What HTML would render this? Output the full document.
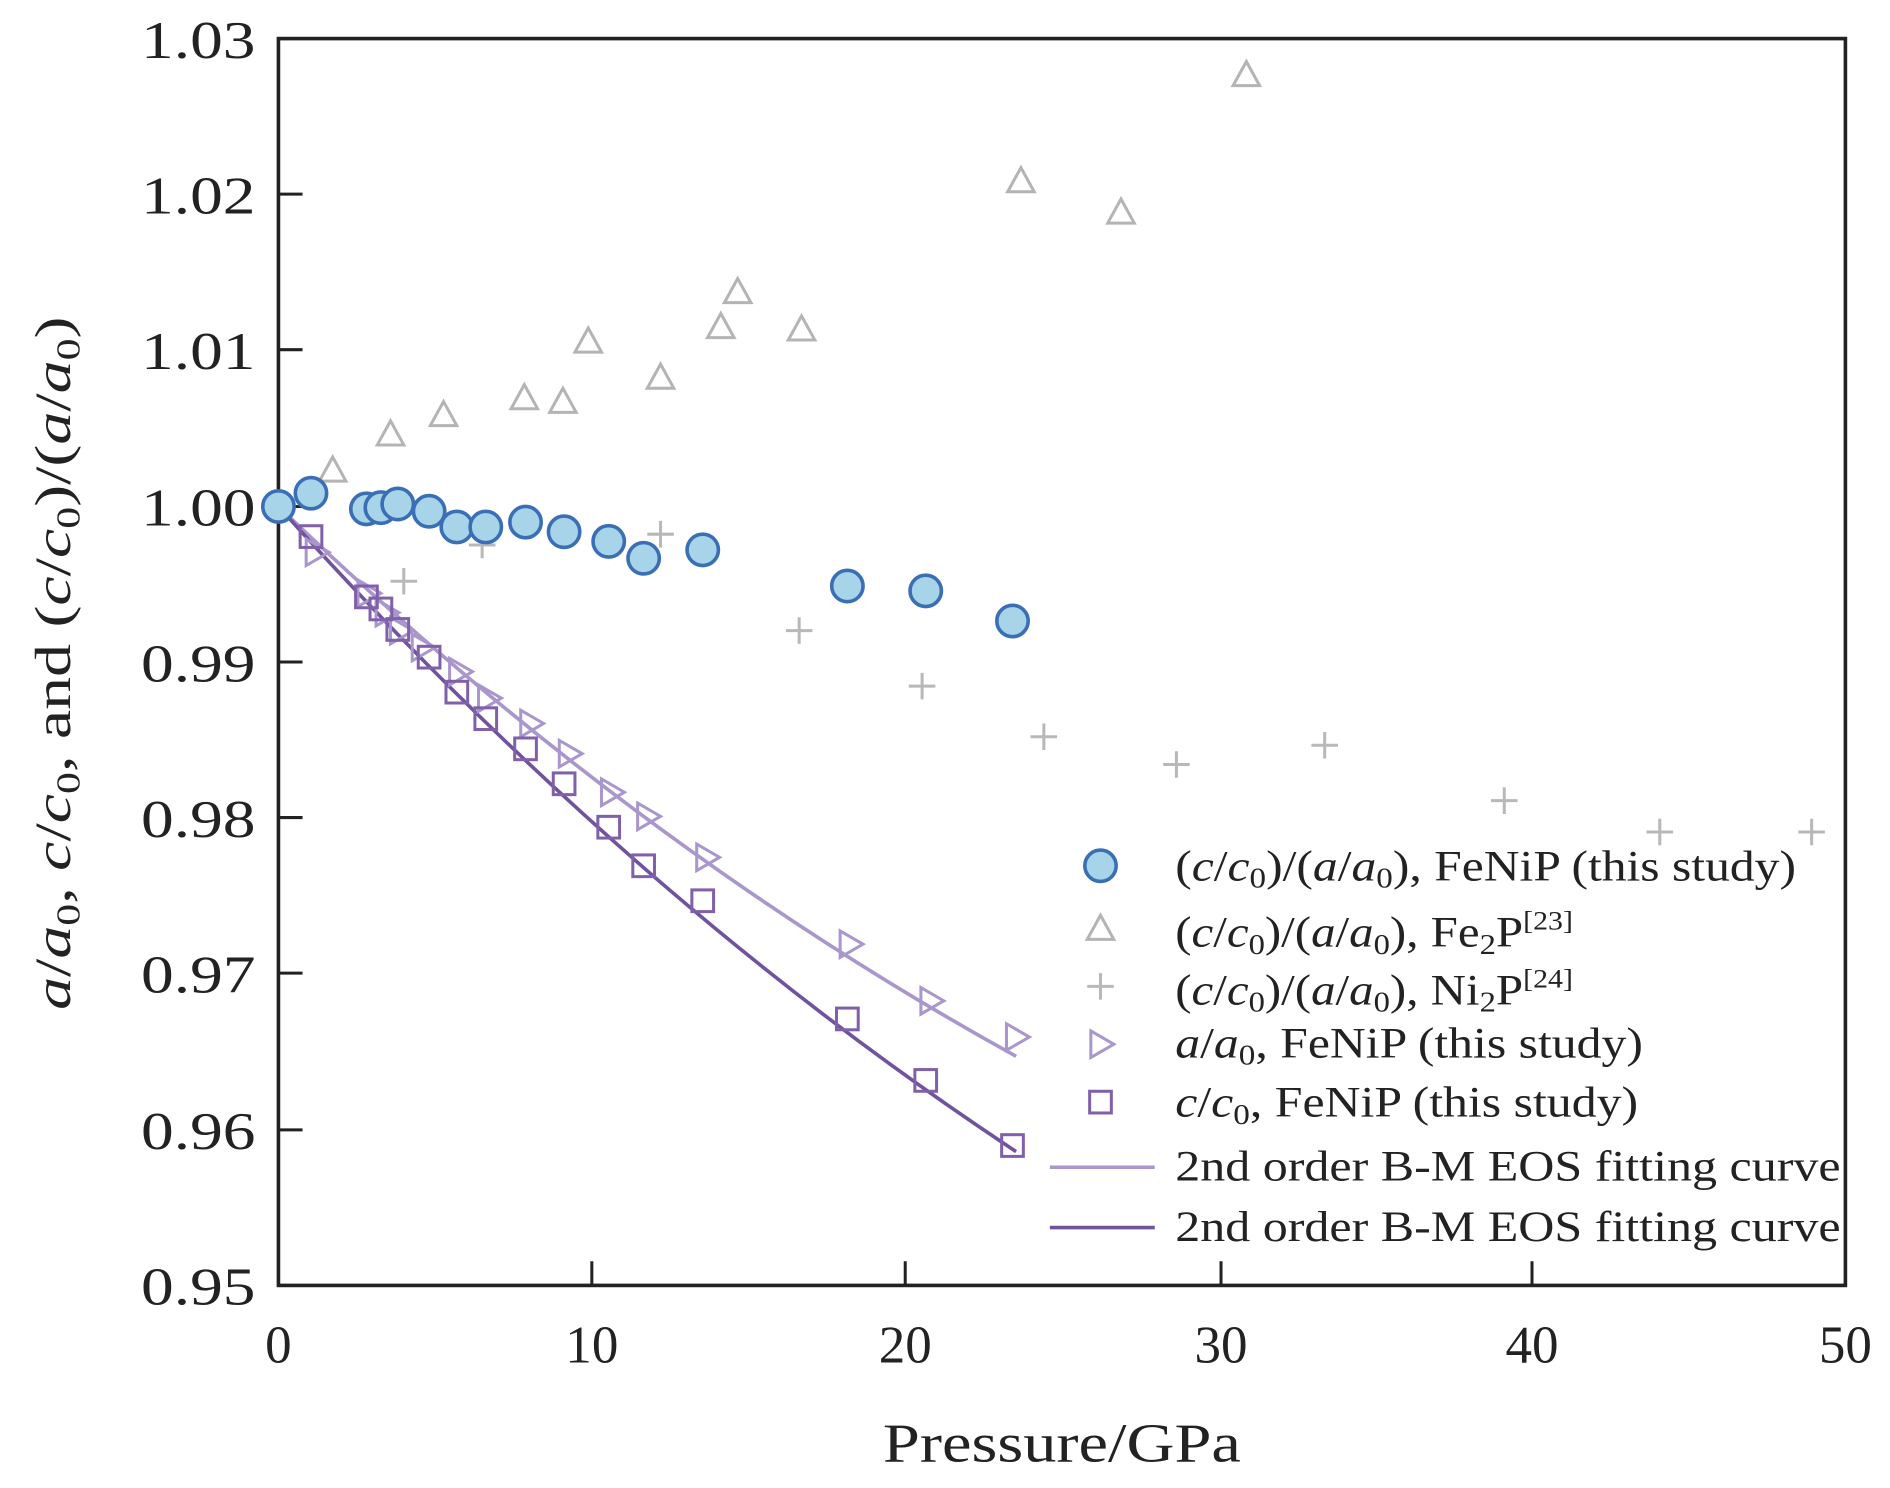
<!DOCTYPE html>
<html><head><meta charset="utf-8"><style>html,body{margin:0;padding:0;background:#fff}svg{display:block}text{font-family:"Liberation Serif",serif}</style></head><body>
<svg width="1890" height="1488" viewBox="0 0 1568 1234" preserveAspectRatio="none" xmlns="http://www.w3.org/2000/svg" fill="#222">
<defs>
<g id="c"><circle r="13" fill="#a8d4ea" stroke="#3a6fb5" stroke-width="3"/></g>
<g id="t"><path d="M0,-11 L11,9 L-11,9 Z" fill="none" stroke="#b4b4b4" stroke-width="2.5"/></g>
<g id="p"><path d="M-11,0 H11 M0,-11 V11" stroke="#b8b8b8" stroke-width="2.5"/></g>
<g id="r"><path d="M-8,-11 L11,0 L-8,11 Z" fill="none" stroke="#a896cc" stroke-width="2.5"/></g>
<g id="s"><rect x="-9" y="-9" width="18" height="18" fill="none" stroke="#8060a8" stroke-width="2.5"/></g>
</defs>
<rect x="231" y="32" width="1300" height="1034" fill="none" stroke="#222" stroke-width="3"/>
<g stroke="#222" stroke-width="2.5">
<path d="M491,1066v-20M751,1066v-20M1013,1066v-20M1271,1066v-20"/>
<path d="M231,161h20M231,290h20M231,420h20M231,549h20M231,678h20M231,807h20M231,937h20"/>
</g>
<g font-size="44" text-anchor="end">
<text x="212" y="48" textLength="95" lengthAdjust="spacingAndGlyphs">1.03</text>
<text x="212" y="177" textLength="95" lengthAdjust="spacingAndGlyphs">1.02</text>
<text x="212" y="306" textLength="95" lengthAdjust="spacingAndGlyphs">1.01</text>
<text x="212" y="436" textLength="95" lengthAdjust="spacingAndGlyphs">1.00</text>
<text x="212" y="565" textLength="95" lengthAdjust="spacingAndGlyphs">0.99</text>
<text x="212" y="694" textLength="95" lengthAdjust="spacingAndGlyphs">0.98</text>
<text x="212" y="823" textLength="95" lengthAdjust="spacingAndGlyphs">0.97</text>
<text x="212" y="953" textLength="95" lengthAdjust="spacingAndGlyphs">0.96</text>
<text x="212" y="1082" textLength="95" lengthAdjust="spacingAndGlyphs">0.95</text>
</g>
<g font-size="44" text-anchor="middle">
<text x="231" y="1130">0</text><text x="491" y="1130">10</text><text x="751" y="1130">20</text><text x="1013" y="1130">30</text><text x="1271" y="1130">40</text><text x="1531" y="1130">50</text>
<text x="881" y="1212" font-size="46" textLength="297" lengthAdjust="spacingAndGlyphs">Pressure/GPa</text>
</g>
<text transform="translate(58,550) rotate(-90)" font-size="42" text-anchor="middle" textLength="575" lengthAdjust="spacingAndGlyphs"><tspan font-style="italic">a</tspan>/<tspan font-style="italic">a</tspan><tspan font-size="28" dy="8">0</tspan><tspan dy="-8">, </tspan><tspan font-style="italic">c</tspan>/<tspan font-style="italic">c</tspan><tspan font-size="28" dy="8">0</tspan><tspan dy="-8">, and (</tspan><tspan font-style="italic">c</tspan>/<tspan font-style="italic">c</tspan><tspan font-size="28" dy="8">0</tspan><tspan dy="-8">)/(</tspan><tspan font-style="italic">a</tspan>/<tspan font-style="italic">a</tspan><tspan font-size="28" dy="8">0</tspan><tspan dy="-8">)</tspan></text>
<path d="M231,420 Q520,698 843,876" fill="none" stroke="#a896cc" stroke-width="3"/>
<path d="M231,420 Q520,742 843,955" fill="none" stroke="#70529e" stroke-width="3"/>
<g>
<use href="#t" x="276" y="390"/><use href="#t" x="324" y="360"/><use href="#t" x="368" y="344"/><use href="#t" x="435" y="330"/><use href="#t" x="467" y="333"/><use href="#t" x="488" y="283"/><use href="#t" x="548" y="313"/><use href="#t" x="598" y="271"/><use href="#t" x="612" y="242"/><use href="#t" x="665" y="273"/><use href="#t" x="847" y="150"/><use href="#t" x="930" y="176"/><use href="#t" x="1034" y="62"/>
<use href="#p" x="335" y="482"/><use href="#p" x="400" y="452"/><use href="#p" x="548" y="443"/><use href="#p" x="663" y="523"/><use href="#p" x="765" y="569"/><use href="#p" x="866" y="611"/><use href="#p" x="976" y="634"/><use href="#p" x="1099" y="618"/><use href="#p" x="1248" y="664"/><use href="#p" x="1377" y="690"/><use href="#p" x="1503" y="690"/>
<use href="#r" x="262" y="458"/><use href="#r" x="305" y="492"/><use href="#r" x="320" y="508"/><use href="#r" x="332" y="523"/><use href="#r" x="350" y="537"/><use href="#r" x="381" y="557"/><use href="#r" x="405" y="579"/><use href="#r" x="440" y="600"/><use href="#r" x="472" y="625"/><use href="#r" x="507" y="657"/><use href="#r" x="537" y="677"/><use href="#r" x="586" y="711"/><use href="#r" x="705" y="783"/><use href="#r" x="772" y="830"/><use href="#r" x="843" y="860"/>
<use href="#s" x="231" y="420"/><use href="#s" x="258" y="445"/><use href="#s" x="304" y="495"/><use href="#s" x="316" y="505"/><use href="#s" x="330" y="522"/><use href="#s" x="356" y="545"/><use href="#s" x="379" y="574"/><use href="#s" x="403" y="596"/><use href="#s" x="436" y="621"/><use href="#s" x="468" y="650"/><use href="#s" x="505" y="686"/><use href="#s" x="534" y="718"/><use href="#s" x="583" y="747"/><use href="#s" x="703" y="845"/><use href="#s" x="768" y="896"/><use href="#s" x="840" y="950"/>
<use href="#c" x="231" y="420"/><use href="#c" x="258" y="409"/><use href="#c" x="304" y="422"/><use href="#c" x="316" y="421"/><use href="#c" x="330" y="418"/><use href="#c" x="356" y="424"/><use href="#c" x="379" y="437"/><use href="#c" x="403" y="437"/><use href="#c" x="436" y="433"/><use href="#c" x="468" y="441"/><use href="#c" x="505" y="449"/><use href="#c" x="534" y="463"/><use href="#c" x="583" y="456"/><use href="#c" x="703" y="486"/><use href="#c" x="768" y="490"/><use href="#c" x="840" y="515"/>
</g>
<g>
<use href="#c" x="913" y="718"/><use href="#t" x="913" y="770"/><use href="#p" x="913" y="818"/><use href="#r" x="913" y="866"/><use href="#s" x="913" y="914"/>
<path d="M871,968H958" stroke="#a896cc" stroke-width="3"/><path d="M871,1018H958" stroke="#70529e" stroke-width="3"/>
</g>
<g font-size="36">
<text x="975" y="730" textLength="515" lengthAdjust="spacingAndGlyphs">(<tspan font-style="italic">c</tspan>/<tspan font-style="italic">c</tspan><tspan font-size="24" dy="6">0</tspan><tspan dy="-6">)/(</tspan><tspan font-style="italic">a</tspan>/<tspan font-style="italic">a</tspan><tspan font-size="24" dy="6">0</tspan><tspan dy="-6">), FeNiP (this study)</tspan></text>
<text x="975" y="785" textLength="330" lengthAdjust="spacingAndGlyphs">(<tspan font-style="italic">c</tspan>/<tspan font-style="italic">c</tspan><tspan font-size="24" dy="6">0</tspan><tspan dy="-6">)/(</tspan><tspan font-style="italic">a</tspan>/<tspan font-style="italic">a</tspan><tspan font-size="24" dy="6">0</tspan><tspan dy="-6">), Fe</tspan><tspan font-size="24" dy="6">2</tspan><tspan dy="-6">P</tspan><tspan font-size="22" dy="-14">[23]</tspan></text>
<text x="975" y="833" textLength="330" lengthAdjust="spacingAndGlyphs">(<tspan font-style="italic">c</tspan>/<tspan font-style="italic">c</tspan><tspan font-size="24" dy="6">0</tspan><tspan dy="-6">)/(</tspan><tspan font-style="italic">a</tspan>/<tspan font-style="italic">a</tspan><tspan font-size="24" dy="6">0</tspan><tspan dy="-6">), Ni</tspan><tspan font-size="24" dy="6">2</tspan><tspan dy="-6">P</tspan><tspan font-size="22" dy="-14">[24]</tspan></text>
<text x="975" y="877" textLength="388" lengthAdjust="spacingAndGlyphs"><tspan font-style="italic">a</tspan>/<tspan font-style="italic">a</tspan><tspan font-size="24" dy="6">0</tspan><tspan dy="-6">, FeNiP (this study)</tspan></text>
<text x="975" y="926" textLength="384" lengthAdjust="spacingAndGlyphs"><tspan font-style="italic">c</tspan>/<tspan font-style="italic">c</tspan><tspan font-size="24" dy="6">0</tspan><tspan dy="-6">, FeNiP (this study)</tspan></text>
<text x="975" y="979" textLength="552" lengthAdjust="spacingAndGlyphs">2nd order B-M EOS fitting curve</text>
<text x="975" y="1029" textLength="552" lengthAdjust="spacingAndGlyphs">2nd order B-M EOS fitting curve</text>
</g>
</svg>
</body></html>
